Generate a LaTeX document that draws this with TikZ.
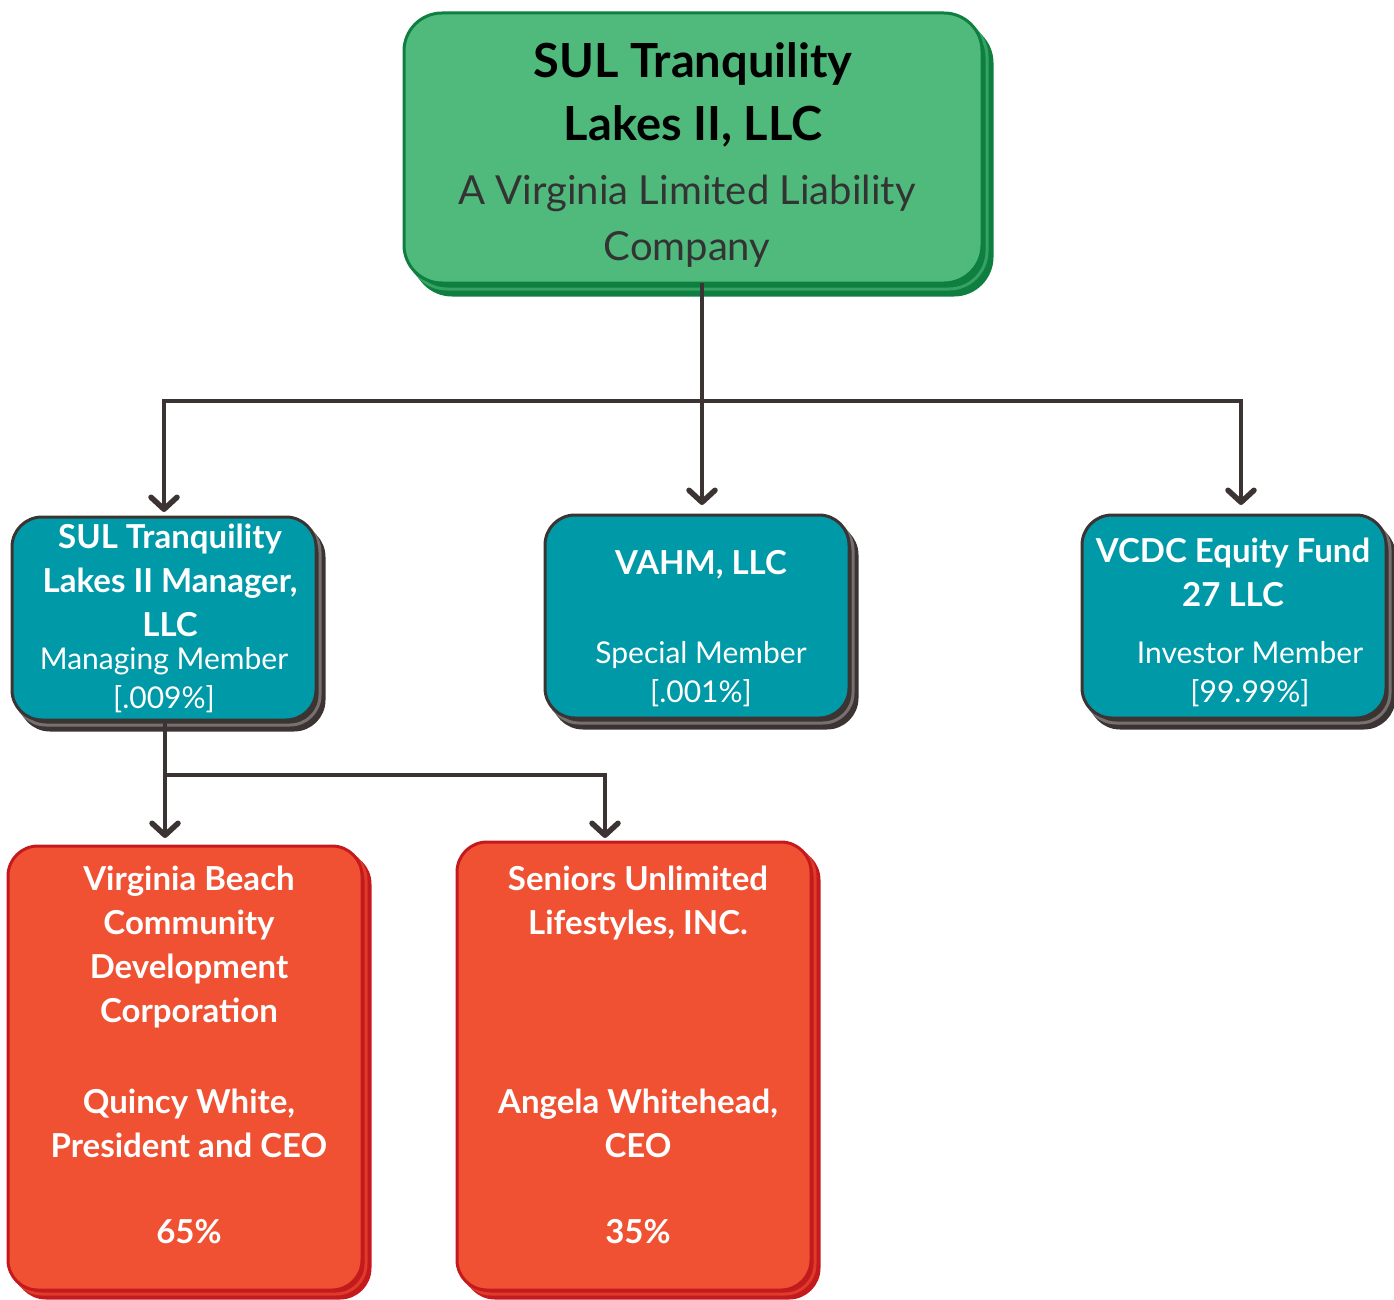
\documentclass[tikz,border=0pt]{standalone}
\usepackage{fontspec}
\setmainfont{Lato}
\usepackage{xcolor}
\usetikzlibrary{arrows.meta,shadows}
\definecolor{leafgreen}{HTML}{4FBA7B}
\definecolor{deepgreen}{HTML}{0E7F40}
\definecolor{tealbox}{HTML}{0099A8}
\definecolor{charcoal}{HTML}{3B3433}
\definecolor{coral}{HTML}{F05133}
\definecolor{brick}{HTML}{C41A1E}
\definecolor{subgray}{HTML}{333333}

\begin{document}
\begin{tikzpicture}[x=1pt,y=-1pt,
  entity/.style={draw, line width=3pt, rounded corners=30pt, inner sep=0pt, outer sep=0pt},
  topbox/.style={entity, fill=leafgreen, draw=deepgreen, rounded corners=38pt,
    minimum width=578pt, minimum height=270pt,
    copy shadow={shadow xshift=10pt, shadow yshift=-12pt, fill=deepgreen, draw=deepgreen},
    copy shadow={shadow xshift=5pt, shadow yshift=-6pt, fill=deepgreen, draw=leafgreen!60!deepgreen}},
  memberbox/.style={entity, fill=tealbox, draw=charcoal,
    minimum width=304pt, minimum height=203pt,
    copy shadow={shadow xshift=8pt, shadow yshift=-10pt, fill=charcoal, draw=charcoal},
    copy shadow={shadow xshift=4pt, shadow yshift=-5pt, fill=charcoal, draw=charcoal!70}},
  ownerbox/.style={entity, fill=coral, draw=brick, minimum width=354pt,
    copy shadow={shadow xshift=8pt, shadow yshift=-8pt, fill=brick, draw=brick},
    copy shadow={shadow xshift=4pt, shadow yshift=-4pt, fill=brick, draw=coral!60!brick}},
  headtxt/.style={font=\fontsize{47}{63}\selectfont\bfseries, align=center},
  subtxt/.style={font=\fontsize{40}{56}\selectfont, text=subgray, align=center},
  nametxt/.style={font=\fontsize{33}{44}\selectfont\bfseries, text=white, align=center},
  roletxt/.style={font=\fontsize{30}{39}\selectfont, text=white, align=center},
  connector/.style={line width=4pt, draw=charcoal},
  arr/.style={connector, -{Straight Barb[length=12pt, width=26pt, round, line width=5.5pt]}}]
  \useasboundingbox (0,0) rectangle (1394,1300);

  % Company on top
  \node[topbox] (top) at (693,148) {};
  \node[headtxt] (toptitle) at (693,95) {SUL Tranquility\\Lakes II, LLC};
  \node[subtxt] (topsub) at (687,221) {A Virginia Limited Liability\\Company};

  % Members
  \node[memberbox] (mgr) at (164,618.5) {};
  \node[memberbox] (vahm) at (697,616.5) {};
  \node[memberbox] (vcdc) at (1234,616.5) {};
  \node[nametxt] (mgrname) at (170,580) {SUL Tranquility\\Lakes II Manager,\\LLC};
  \node[roletxt] (mgrrole) at (164,680) {Managing Member\\{[.009\%]}};
  \node[nametxt] (vahmname) at (701,565) {VAHM, LLC};
  \node[roletxt] (vahmrole) at (701,674) {Special Member\\{[.001\%]}};
  \node[nametxt] (vcdcname) at (1233,572) {VCDC Equity Fund\\27 LLC};
  \node[roletxt] (vcdcrole) at (1250,674) {Investor Member\\{[99.99\%]}};

  % Owners of the manager
  \node[ownerbox, minimum height=444pt] (vbcdc) at (185,1068) {};
  \node[ownerbox, minimum height=448pt] (sul) at (634,1066) {};
  \node[nametxt] (vbcdcname) at (189,947) {Virginia Beach\\Community\\Development\\Corporation};
  \node[nametxt] (vbcdcceo) at (189,1123) {Quincy White,\\President and CEO};
  \node[nametxt] (vbcdcshare) at (189,1232) {65\%};
  \node[nametxt] (sulname) at (638,903) {Seniors Unlimited\\Lifestyles, INC.};
  \node[nametxt] (sulceo) at (638,1123) {Angela Whitehead,\\CEO};
  \node[nametxt] (sulshare) at (638,1232) {35\%};

  % Connectors
  \coordinate (split) at (702,401);
  \draw[connector] (top.south -| split) -- (split);
  \draw[arr, shorten >=5pt] (split) -| (mgr.north);
  \draw[arr, shorten >=10pt] (split) -- (split |- vahm.north);
  \draw[arr, shorten >=10pt] (split) -| ([xshift=7pt]vcdc.north);
  \coordinate (fork) at (165,775);
  \coordinate (forkend) at (605,775);
  \draw[connector] (fork |- mgr.south) -- (fork);
  \draw[arr, shorten >=8pt] (fork) -- (fork |- vbcdc.north);
  \draw[arr, shorten >=4pt] (fork) -- (forkend) -- (forkend |- sul.north);
\end{tikzpicture}
\end{document}
